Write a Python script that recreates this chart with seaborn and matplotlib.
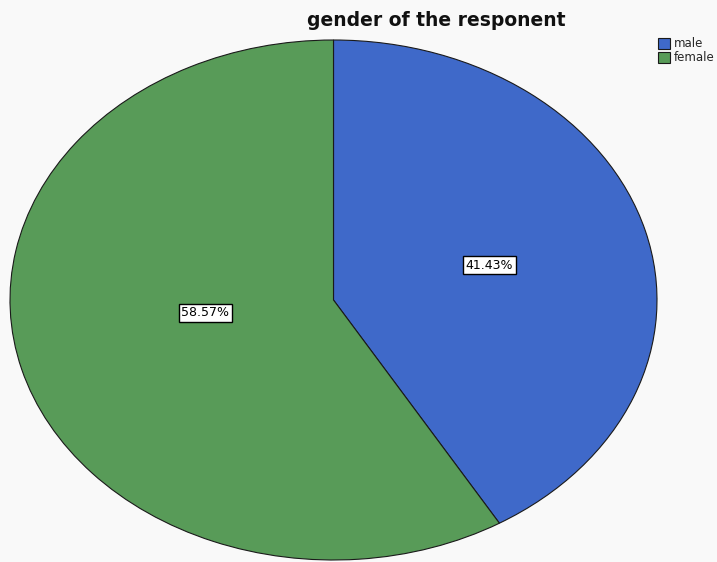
import matplotlib
matplotlib.use("Agg")
import matplotlib.pyplot as plt
import seaborn as sns
from matplotlib.patches import Patch

categories = ["male", "female"]
percentages = [41.43, 58.57]
colors = ["#3f69c9", "#589b58"]
title = "gender of the responent"

sns.set_theme(style="white")
plt.rcParams["font.family"] = ["DejaVu Sans"]

W, H = 717, 562
fig = plt.figure(figsize=(W / 100, H / 100), dpi=100)
fig.patch.set_facecolor("#f9f9f9")

# ellipse spans x 10..657, y 40..560 (pixel, from top)
ax = fig.add_axes([10 / W, (H - 560) / H, 647 / W, 520 / H])
wedges, texts, autotexts = ax.pie(
    percentages, colors=colors, startangle=90, counterclock=False,
    autopct=lambda p: f"{p:.2f}%", pctdistance=0.5,
    wedgeprops=dict(edgecolor="#1a1a1a", linewidth=0.8),
    textprops=dict(fontsize=9),
)
ax.set_aspect("auto")
ax.set_xlim(-1, 1)
ax.set_ylim(-1, 1)
ax.axis("off")
ax.patch.set_alpha(0)

# SPSS-style label placement
autotexts[1].set_position((-0.396, -0.05))
for t in autotexts:
    t.set_ha("center")
    t.set_va("center")
    t.set_color("black")
    t.set_bbox(dict(boxstyle="square,pad=0.2", facecolor="white",
                    edgecolor="black", linewidth=1.0))

fig.text(436 / W, 1 - 21 / H, title, ha="center", va="center",
         fontsize=13.5, fontweight="bold", color="#111111")

handles = [Patch(facecolor=c, edgecolor="#1a1a1a", linewidth=0.8, label=l)
           for c, l in zip(colors, categories)]
leg = fig.legend(handles=handles, loc="upper left",
                 bbox_to_anchor=(650 / W, 1 - 29 / H), frameon=False,
                 fontsize=8.5, handlelength=1.0, handleheight=1.0,
                 handletextpad=0.3, labelspacing=0.1, borderpad=0.2)

fig.savefig("out.png", dpi=100, facecolor=fig.get_facecolor())
